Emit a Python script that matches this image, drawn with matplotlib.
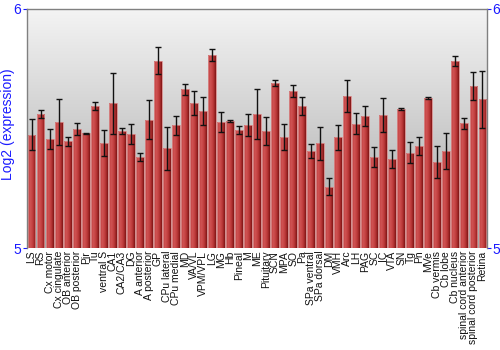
import matplotlib
matplotlib.use("Agg")
import matplotlib.pyplot as plt
import numpy as np
from matplotlib.colors import LinearSegmentedColormap

categories = ["LS", "RS", "Cx motor", "Cx cingulate", "OB anterior", "OB posterior", "Pir", "Tu",
              "ventral S", "CA1", "CA2/CA3", "DG", "A anterior", "A posterior", "GP", "CPu lateral",
              "CPu medial", "MD", "VA/VL", "VPM/VPL", "LG", "MG", "Hb", "Pineal", "M", "ME",
              "Pituitary", "SCN", "MPA", "SO", "Pa", "SPa ventral", "SPa dorsal", "DM", "VMH", "Arc",
              "LH", "PAG", "SC", "IC", "VTA", "SN", "Tg", "Pn", "MVe", "Cb vermis", "Cb lobe",
              "Cb nucleus", "spinal cord anterior", "spinal cord posterior", "Retina"]
values = [5.473, 5.559, 5.457, 5.527, 5.446, 5.499, 5.480, 5.594, 5.438, 5.605, 5.491, 5.477,
          5.381, 5.536, 5.784, 5.417, 5.513, 5.664, 5.605, 5.573, 5.808, 5.527, 5.530, 5.495,
          5.516, 5.559, 5.490, 5.689, 5.466, 5.657, 5.594, 5.406, 5.438, 5.256, 5.463, 5.636,
          5.519, 5.552, 5.381, 5.558, 5.372, 5.582, 5.399, 5.427, 5.629, 5.360, 5.406, 5.784,
          5.522, 5.677, 5.622]
errors = [0.065, 0.017, 0.041, 0.097, 0.019, 0.026, 0.003, 0.016, 0.054, 0.129, 0.012, 0.040,
          0.018, 0.082, 0.058, 0.091, 0.040, 0.024, 0.050, 0.060, 0.026, 0.041, 0.004, 0.016,
          0.046, 0.105, 0.059, 0.013, 0.054, 0.026, 0.039, 0.029, 0.068, 0.036, 0.051, 0.065,
          0.044, 0.042, 0.043, 0.071, 0.038, 0.005, 0.044, 0.039, 0.004, 0.068, 0.074, 0.021,
          0.023, 0.059, 0.118]
y_ticks = [5, 6]

plt.rcParams['font.family'] = ['Liberation Sans', 'DejaVu Sans']
fig = plt.figure(figsize=(5.0, 3.5), dpi=100)
ax = fig.add_axes([0.054, 0.2914, 0.920, 0.6829])

n = len(categories)
x = np.arange(n)
ymin, ymax = 5.0, 6.0
ax.set_xlim(-0.5, n - 0.5)
ax.set_ylim(ymin, ymax)

# background gradient
bg = LinearSegmentedColormap.from_list("bg", ["#a6a6a6", "#f4f4f4"])
grad = np.linspace(0, 1, 256).reshape(-1, 1)
ax.imshow(grad, cmap=bg, aspect="auto", origin="lower",
          extent=[-0.5, n - 0.5, ymin, ymax], zorder=0)

# bars with horizontal gradient
barcm = LinearSegmentedColormap.from_list("bar", ["#b83434", "#d05454", "#c84646", "#b03030", "#7e1414"])
hgrad = np.linspace(0, 1, 64).reshape(1, -1)
bw = 0.88
bars = ax.bar(x, np.array(values) - ymin, bottom=ymin, width=bw,
              color="none", edgecolor="#d88a8a", linewidth=0.6, zorder=2)
for b in bars:
    x0, y0 = b.get_x(), b.get_y()
    w, h = b.get_width(), b.get_height()
    im = ax.imshow(hgrad, cmap=barcm, aspect="auto", extent=[x0, x0 + w, y0, y0 + h], zorder=1.5)
    im.set_clip_path(b)

ax.errorbar(x, values, yerr=errors, fmt="none", ecolor="#111111", elinewidth=1.0,
            capsize=2.5, capthick=1.0, zorder=3)

ax.set_xticks(x)
ax.set_xticklabels(categories, rotation=90, fontsize=7.5, color="#111111")
ax.tick_params(axis="x", length=0, pad=2)
ax.set_yticks(y_ticks)
ax.set_yticklabels([str(t) for t in y_ticks], fontsize=10, color="#1a1aff")
ax.tick_params(axis="y", length=3, color="#1a1aff", left=True, right=True,
               labelleft=True, labelright=True, pad=1)
ax.set_ylabel("Log2 (expression)", color="#1a1aff", fontsize=10, labelpad=0)
ax.yaxis.set_label_coords(-0.025, 0.52)

for s in ["left", "right", "top"]:
    ax.spines[s].set_color("#808080")
    ax.spines[s].set_linewidth(1.0)
ax.spines["bottom"].set_visible(False)

fig.savefig("out.png", dpi=100)
